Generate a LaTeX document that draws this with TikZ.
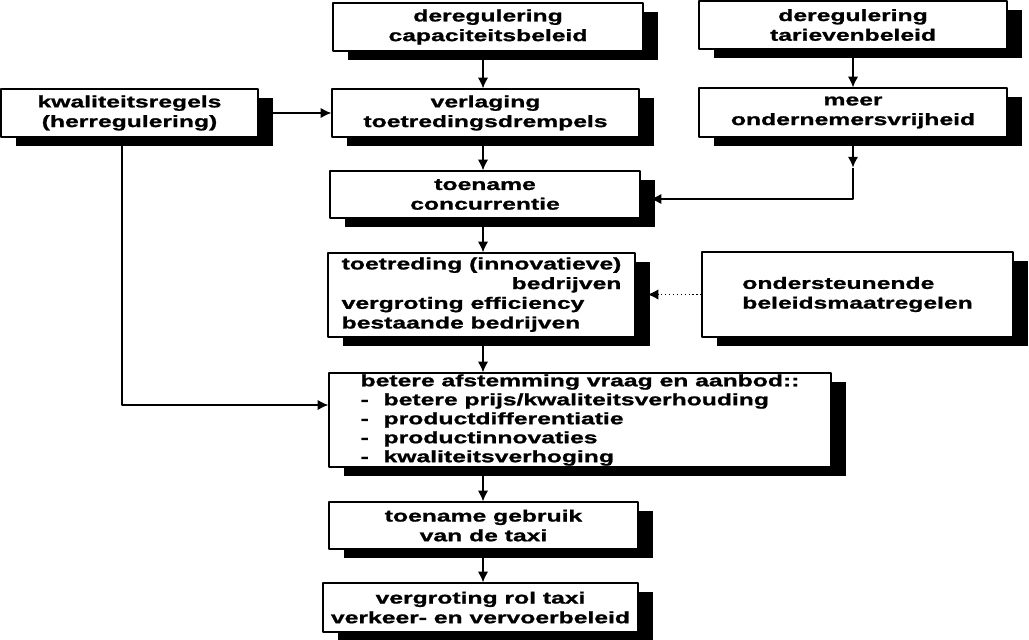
\documentclass[tikz,border=0pt]{standalone}
\usepackage{fontspec}
\setmainfont{Liberation Sans}[FakeStretch=1.5, BoldFeatures={FakeBold=1.2}]
\usetikzlibrary{arrows.meta,shadows}

\tikzset{box/.style={draw, fill=white, line width=0.8pt, inner sep=0pt, align=center,
    drop shadow={shadow xshift=0.375cm, shadow yshift=-0.225cm, fill=black, opacity=1}}}

\begin{document}
\begin{tikzpicture}[x=0.025cm, y=-0.025cm, line width=1.2pt, line join=round, >={Latex[length=2.7mm,width=2.6mm]},
    font=\fontsize{11.7}{14}\selectfont\bfseries]
    \useasboundingbox (0,0) rectangle (1029,639);
    % kaders met twee regels
    \foreach \nm/\cx/\cy/\w/\h/\txt in {cap/488/27/310/48/{deregulering\\capaciteitsbeleid},
        tarief/853/25/308/48/{deregulering\\tarievenbeleid},
        kwal/129.5/113/257/48/{kwaliteitsregels\\(herregulering)},
        verl/485.5/113/307/48/{verlaging\\toetredingsdrempels},
        meer/853/112.5/308/49/{meer\\ondernemersvrijheid},
        conc/485/194.5/310/47/{toename\\concurrentie},
        gebruik/483.5/525.5/309/47/{toename gebruik\\van de taxi},
        rol/480.5/607.5/315/49/{vergroting rol taxi\\verkeer- en vervoerbeleid}}
        \node[box, minimum width=\w*0.025cm, minimum height=\h*0.025cm] (\nm) at (\cx,\cy) {\txt};
    \node[box, minimum width=307*0.025cm, minimum height=84*0.025cm] (toetr) at (481.5,295)
        {\begin{tabular}{@{}l@{}}toetreding (innovatieve)\\ \hfill bedrijven\\ vergroting efficiency\\ bestaande bedrijven\end{tabular}};
    \node[box, align=left, minimum width=311*0.025cm, minimum height=85*0.025cm] (onder) at (857.5,294.5)
        {ondersteunende\\beleidsmaatregelen};
    \node[box, align=left, font=\fontsize{11.7}{13.5}\selectfont\bfseries, minimum width=502*0.025cm, minimum height=94*0.025cm] (betere) at (580,420)
        {betere afstemming vraag en aanbod::\\
         \makebox[0.575cm][l]{-}betere prijs/kwaliteitsverhouding\\
         \makebox[0.575cm][l]{-}productdifferentiatie\\
         \makebox[0.575cm][l]{-}productinnovaties\\
         \makebox[0.575cm][l]{-}kwaliteitsverhoging};
    % pijlen
    \coordinate (mid) at (483,0);
    \foreach \a/\b in {cap/verl, verl/conc, conc/toetr, toetr/betere, betere/gebruik, gebruik/rol}
        \draw[->] (\a.south -| mid) -- (\b.north -| mid);
    \draw[->] (tarief) -- (meer);
    \draw[->] (kwal) -- (verl);
    \draw[->] (meer.south) -- ++(0,30) coordinate (pijl);
    \coordinate (knik) at (853,199);
    \draw[->, shorten >=0.25cm] (pijl) -- (knik) -- (knik -| conc.east);
    \coordinate (hoek) at (122,405);
    \draw[->] (kwal.south -| hoek) -- (hoek) -- (hoek -| betere.west);
    \draw[->, dotted, line width=0.8pt, shorten >=0.3cm] (onder.west) -- (onder.west -| toetr.east);
\end{tikzpicture}
\end{document}
